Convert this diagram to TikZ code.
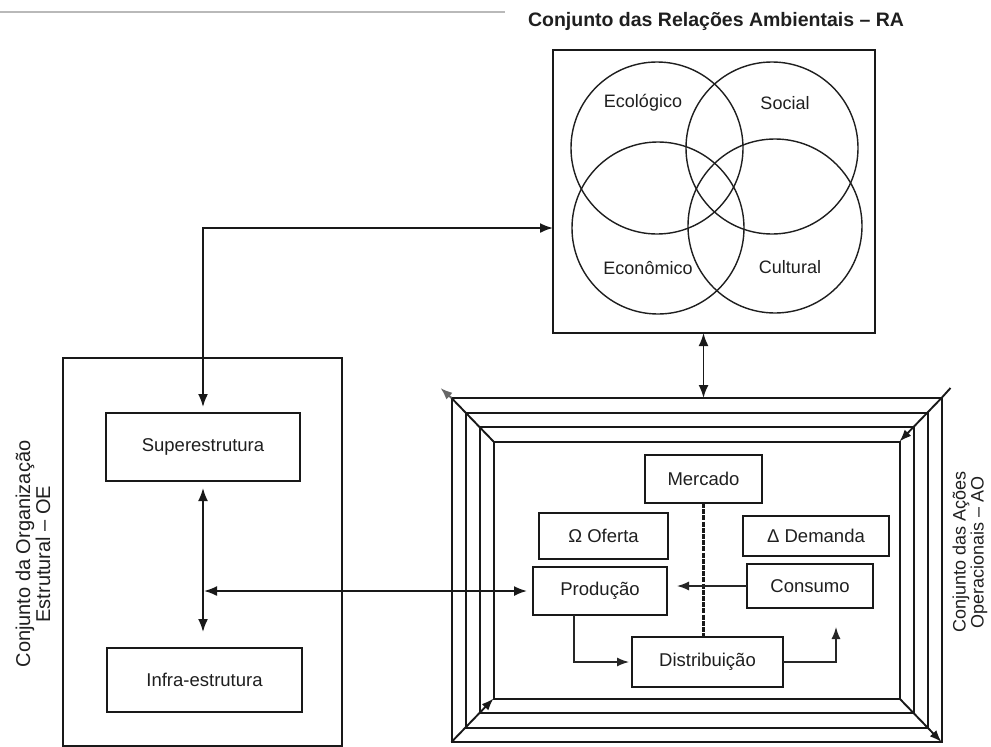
\documentclass[tikz,border=0pt]{standalone}
\usepackage{fontspec}
\setmainfont{Liberation Sans}
\usetikzlibrary{arrows.meta,calc}
\begin{document}
\begin{tikzpicture}[x=1pt,y=-1pt,
  ink/.style={draw=black!90, line width=2pt},
  box/.style={ink, rectangle, inner sep=0pt, outer sep=0pt, text=black!88,
    font=\fontsize{18.5}{20}\selectfont},
  panel/.style={draw=black!90, line width=2.4pt, rectangle, inner sep=0pt, outer sep=0pt},
  frameline/.style={draw=black!90, line width=1.9pt},
  ring/.style={draw=black!88, line width=1.4pt},
  link/.style={draw=black!90, line width=1.8pt},
  thinlink/.style={draw=black!85, line width=1.4pt},
  tip/.style={-{Latex[length=12pt,width=9pt]}},
  dbl/.style={{Latex[length=13pt,width=10pt]}-{Latex[length=13pt,width=10pt]}},
  lbl/.style={text=black!88, font=\fontsize{18}{20}\selectfont},
  side/.style={rotate=90, align=center, text=black!88}
]
\fill[white] (0,0) rectangle (991,747);
\useasboundingbox (0,0) rectangle (991,747);

% faint rule along the top edge
\draw[gray!55, line width=1.2pt] (0,12) -- (505,12);

% ---------- environmental relations (RA) ----------
\node[font=\bfseries\fontsize{19.5}{22}\selectfont, text=black!88] (title) at (716,21)
  {Conjunto das Relações Ambientais – RA};
\node[panel, minimum width=322pt, minimum height=283pt] (ra) at (714,191.5) {};
\draw[ring] (657,148) circle[radius=86];
\draw[ring] (772,148) circle[radius=86];
\draw[ring] (658,228) circle[radius=86];
\draw[ring] (775,226) circle[radius=87];
\node[lbl] (eco)  at (643,103) {Ecológico};
\node[lbl] (soc)  at (785,103) {Social};
\node[lbl] (econ) at (648,268) {Econômico};
\node[lbl] (cult) at (790,267) {Cultural};

% ---------- structural organisation (OE) ----------
\node[panel, minimum width=279pt, minimum height=388pt] (oe) at (202.5,552) {};
\node[box, minimum width=194pt, minimum height=68pt] (sup) at (203,447) {Superestrutura};
\node[box, minimum width=195pt, minimum height=64pt] (inf) at (204.5,680) {Infra-estrutura};
\node[side, font=\fontsize{20}{20}\selectfont] (oelabel) at (33,554)
  {Conjunto da Organização\\Estrutural – OE};

% ---------- operational actions (AO) ----------
\node[panel, line width=2pt, minimum width=490pt, minimum height=344pt] (ao1) at (696.5,570) {};
\node[panel, line width=2pt, minimum width=462pt, minimum height=315pt] (ao2) at (696.5,570) {};
\node[panel, line width=2pt, minimum width=434pt, minimum height=286pt] (ao3) at (696.5,570) {};
\node[panel, line width=2pt, minimum width=406pt, minimum height=257pt] (ao4) at (696.5,570) {};
\draw[frameline] (ao4.north west) -- (ao1.north west);
\draw[frameline, tip, draw=black!60] (ao1.north west) -- ++(-11,-10);
\draw[frameline] (ao1.north east) -- ++(9,-10);
\draw[frameline, tip] (ao1.north east) -- (ao4.north east);
\draw[frameline, tip] (ao1.south west) -- (ao4.south west);
\draw[frameline, tip] (ao4.south east) -- (ao1.south east);
\node[side, font=\fontsize{18}{18}\selectfont] (aolabel) at (970,552)
  {Conjunto das Ações\\Operacionais – AO};

\node[box, minimum width=117pt, minimum height=48pt] (mercado) at (703.5,479) {Mercado};
\node[box, minimum width=129pt, minimum height=46pt] (oferta)  at (603.5,536) {Ω Oferta};
\node[box, minimum width=146pt, minimum height=40pt] (demanda) at (816,536) {Δ Demanda};
\node[box, minimum width=134pt, minimum height=48pt] (producao) at (600,591) {Produção};
\node[box, minimum width=126pt, minimum height=44pt] (consumo) at (810,586) {Consumo};
\node[box, minimum width=151pt, minimum height=50pt] (distrib) at (707.5,662) {Distribuição};

% ---------- connectors ----------
\coordinate (c1) at (203,228);
\draw[link, dbl, shorten <=6pt] (sup.north) -- (c1) -- (ra.west |- c1);
\draw[link, dbl, shorten <=7pt, shorten >=16pt] (sup.south) -- (sup.south |- inf.north);
\coordinate (c2) at (sup.south |- producao.west);
\draw[link, dbl, shorten <=1pt, shorten >=6pt] (c2) -- (producao.west);
\draw[link, dbl] (ra.south -| mercado) -- (ao1.north -| mercado);

\draw[draw=black!90, line width=2.2pt, dash pattern=on 5pt off 1.2pt] (mercado.south) -- (mercado.south |- distrib.north);
\draw[thinlink, tip, shorten >=10pt] (consumo.west) -- (consumo.west -| producao.east);
\draw[thinlink, tip, shorten >=3pt] ([xshift=-26pt]producao.south) |- (distrib.west);
\draw[thinlink, tip, shorten >=19pt] (distrib.east) -| ([xshift=26pt]consumo.south);
\end{tikzpicture}
\end{document}
